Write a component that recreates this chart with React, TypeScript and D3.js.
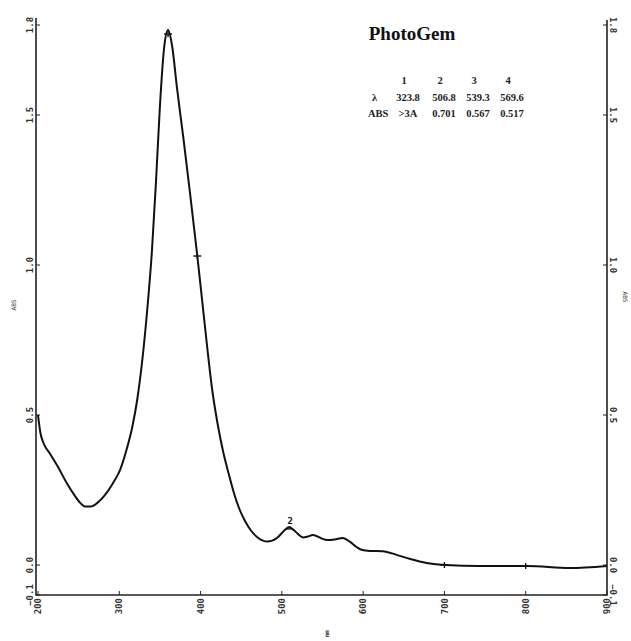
import * as d3 from "d3";

// spectrum (nm, ABS)
const wavelengths = [
  200, 203, 207, 215, 225, 235, 245, 252, 258, 265, 273, 282, 292, 301, 309,
  316, 322, 329, 335, 340, 345, 350, 355, 360, 365, 371, 379, 387, 396, 402,
  408, 414, 421, 428, 435, 441, 448, 455, 462, 471, 482, 494, 503, 509, 514,
  520, 526, 532, 538, 544, 550, 556, 565, 575, 584, 592, 599, 608, 624, 642,
  658, 678, 701, 744, 802, 854, 900,
];
const absorbance = [
  0.5, 0.44, 0.405, 0.37, 0.325, 0.275, 0.232, 0.207, 0.195, 0.195, 0.207,
  0.232, 0.272, 0.317, 0.385, 0.46, 0.55, 0.7, 0.87, 1.04, 1.27, 1.53, 1.72,
  1.783, 1.73, 1.59, 1.42, 1.24, 1.03, 0.88, 0.73, 0.59, 0.47, 0.375, 0.3,
  0.24, 0.185, 0.145, 0.115, 0.09, 0.078, 0.09, 0.115, 0.127, 0.118, 0.103,
  0.092, 0.095, 0.1, 0.095, 0.087, 0.083, 0.085, 0.09, 0.077, 0.06, 0.05,
  0.047, 0.046, 0.033, 0.02, 0.007, 0.0, -0.003, -0.003, -0.01, -0.003,
];

const xTicks = [200, 300, 400, 500, 600, 700, 800, 900];
const yTicks = [-0.1, 0.0, 0.5, 1.0, 1.5, 1.8];

// cursor marks on the trace
const markerWl = [396, 700, 800, 360];
const markerAbs = [1.03, 0.0, -0.003, 1.77];
const peakMarkWl = [509];
const peakMarkAbs = [0.127];
const peakMarkLabels = ["2"];

// peak table
const peakNums = ["1", "2", "3", "4"];
const peakLambda = ["323.8", "506.8", "539.3", "569.6"];
const peakAbs = [">3A", "0.701", "0.567", "0.517"];

const W = 631;
const H = 641;

export default function App() {
  const x = d3.scaleLinear().domain([200, 900]).range([38, 607]);
  const y = d3.scaleLinear().domain([-0.1, 1.8]).range([595, 25]);

  const pts = wavelengths.map((w, i) => [w, absorbance[i]] as [number, number]);
  const line = d3
    .line<[number, number]>()
    .x((d) => x(d[0]))
    .y((d) => y(d[1]))
    .curve(d3.curveMonotoneX);

  const left = x(200) - 2;
  const right = x(900);
  const bottom = y(-0.1);
  const tickFont = "'DejaVu Sans Mono', monospace";
  const serif = "'Liberation Serif', 'Times New Roman', serif";

  const fmt = (v: number) => (v === 0 ? "0.0" : d3.format(".1f")(v));
  const tableCols = [408, 444, 478, 512];

  return (
    <svg
      width={W}
      height={H}
      style={{ position: "absolute", left: 0, top: 0, background: "#fff" }}
    >
      {/* frame: left, bottom, right */}
      <path
        d={`M${left},18V${bottom}H${right}V20`}
        fill="none"
        stroke="#222"
        strokeWidth={1.6}
      />

      {/* y ticks left + right */}
      {yTicks.map((t) => (
        <g key={"y" + t}>
          <line x1={left} x2={left + 4} y1={y(t)} y2={y(t)} stroke="#222" />
          <line x1={right} x2={right - 4} y1={y(t)} y2={y(t)} stroke="#222" />
          <text
            transform={`translate(${left - 3},${y(t)}) rotate(-90)`}
            textAnchor="middle"
            fontFamily={tickFont}
            fontWeight="bold"
            fontSize={9}
            fill="#333"
          >
            {fmt(t)}
          </text>
          <text
            transform={`translate(${right + 3},${y(t)}) rotate(90)`}
            textAnchor="middle"
            fontFamily={tickFont}
            fontWeight="bold"
            fontSize={9}
            fill="#333"
          >
            {fmt(t)}
          </text>
        </g>
      ))}

      {/* x ticks */}
      {xTicks.map((t) => (
        <g key={"x" + t}>
          <line x1={x(t)} x2={x(t)} y1={bottom} y2={bottom - 4} stroke="#222" />
          <text
            transform={`translate(${x(t)},${bottom + 3}) rotate(-90)`}
            textAnchor="end"
            dy="0.35em"
            fontFamily={tickFont}
            fontWeight="bold"
            fontSize={9}
            fill="#333"
          >
            {t}
          </text>
        </g>
      ))}

      {/* axis titles */}
      <text
        transform={`translate(16,305) rotate(-90)`}
        textAnchor="middle"
        fontFamily={tickFont}
        fontSize={6}
        fill="#333"
      >
        ABS
      </text>
      <text
        transform={`translate(623,297) rotate(90)`}
        textAnchor="middle"
        fontFamily={tickFont}
        fontSize={6}
        fill="#333"
      >
        ABS
      </text>
      <text
        transform={`translate(327,634) rotate(-90)`}
        textAnchor="middle"
        dy="0.35em"
        fontFamily={tickFont}
        fontWeight="bold"
        fontSize={6}
        fill="#333"
      >
        nm
      </text>

      {/* spectrum */}
      <path d={line(pts) ?? ""} fill="none" stroke="#111" strokeWidth={2} />

      {/* cursor marks (small crosses) */}
      {markerWl.map((w, i) => (
        <g key={"m" + w} stroke="#111" strokeWidth={1.4}>
          <line
            x1={x(w) - 4}
            x2={x(w) + 4}
            y1={y(markerAbs[i])}
            y2={y(markerAbs[i])}
          />
          <line
            x1={x(w)}
            x2={x(w)}
            y1={y(markerAbs[i]) - 3}
            y2={y(markerAbs[i]) + 3}
          />
        </g>
      ))}
      {peakMarkWl.map((w, i) => (
        <g key={"p" + w}>
          <line
            x1={x(w) - 3}
            x2={x(w) + 3}
            y1={y(peakMarkAbs[i]) + 2}
            y2={y(peakMarkAbs[i]) + 2}
            stroke="#111"
            strokeWidth={1.4}
          />
          <text
            x={x(w) + 1}
            y={y(peakMarkAbs[i]) - 3}
            textAnchor="middle"
            fontFamily={tickFont}
            fontWeight="bold"
            fontSize={9}
            fill="#111"
          >
            {peakMarkLabels[i]}
          </text>
        </g>
      ))}

      {/* title */}
      <text
        x={412}
        y={40}
        textAnchor="middle"
        fontFamily={serif}
        fontWeight="bold"
        fontSize={19}
        fill="#111"
      >
        PhotoGem
      </text>

      {/* peak table */}
      <g fontFamily={serif} fontWeight="bold" fontSize={10.5} fill="#222">
        {peakNums.map((n, i) => (
          <text key={"n" + n} x={tableCols[i] - 4} y={84} textAnchor="middle">
            {n}
          </text>
        ))}
        <text x={372} y={101}>λ</text>
        {peakLambda.map((v, i) => (
          <text key={"l" + i} x={tableCols[i]} y={101} textAnchor="middle">
            {v}
          </text>
        ))}
        <text x={368} y={117}>ABS</text>
        {peakAbs.map((v, i) => (
          <text key={"a" + i} x={tableCols[i]} y={117} textAnchor="middle">
            {v}
          </text>
        ))}
      </g>
    </svg>
  );
}
